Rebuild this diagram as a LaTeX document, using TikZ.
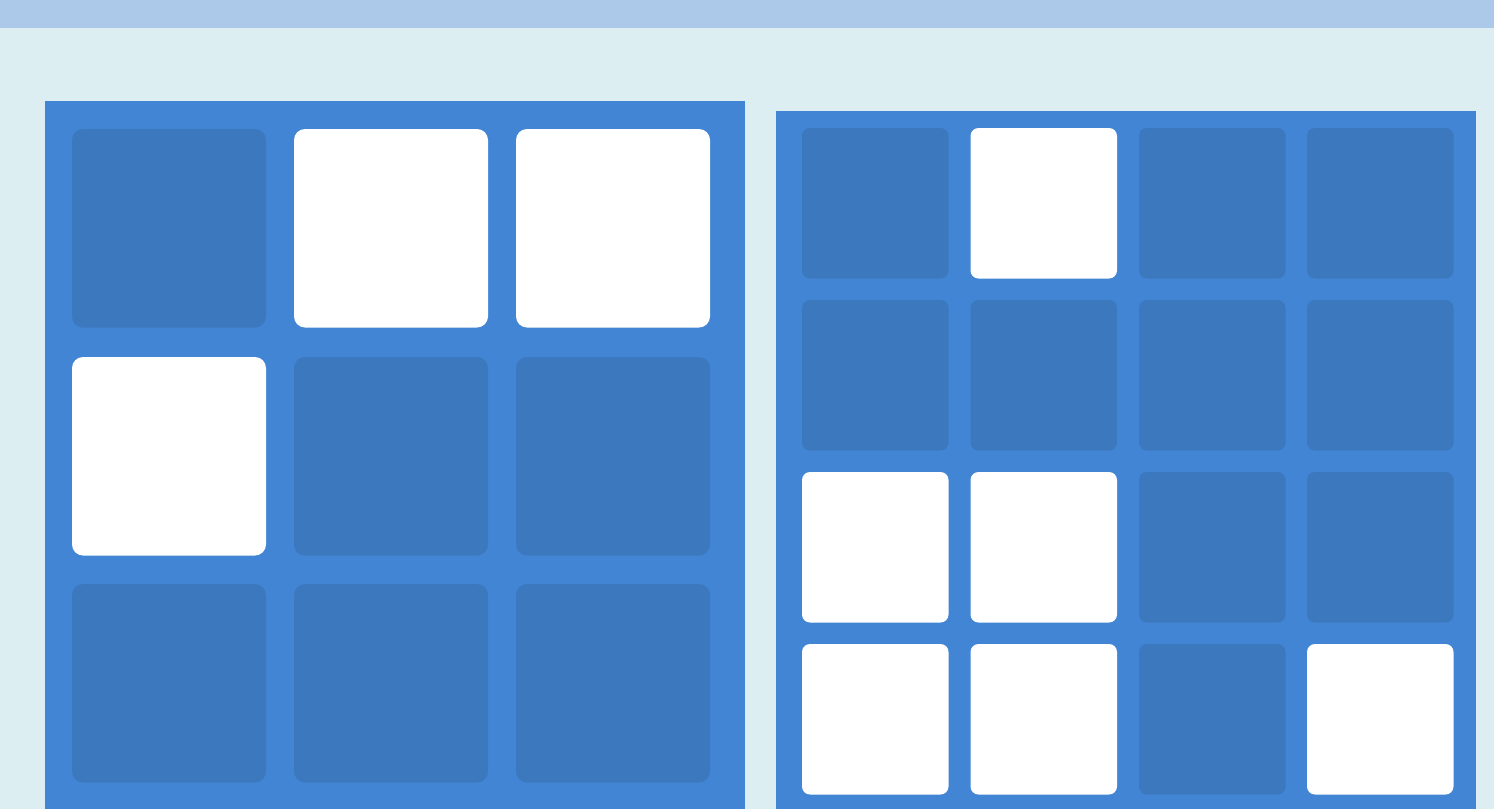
\documentclass[tikz,border=0pt]{standalone}
\definecolor{barcol}{HTML}{ADC9EA}
\definecolor{bgcol}{HTML}{DCEEF2}
\definecolor{panelcol}{HTML}{4285D4}
\definecolor{darkcol}{HTML}{3C78BE}
\begin{document}
\begin{tikzpicture}[x=1pt,y=-1pt,
  panel/.style={fill=panelcol},
  bigtile/.style={rounded corners=11pt},
  smalltile/.style={rounded corners=8pt},
  on/.style={fill=white},
  off/.style={fill=darkcol}]
\useasboundingbox (0,0) rectangle (1494,809);
\fill[bgcol] (0,0) rectangle (1494,809);
\fill[barcol] (0,0) rectangle (1494,28);
% left panel
\fill[panel] (45,101) rectangle (745,809);
\def\leftstates{{0,1,1},{1,0,0},{0,0,0}}
\foreach \r/\y in {0/129,1/357,2/584}{
  \foreach \c/\x in {0/72,1/294,2/516}{
    \pgfmathsetmacro{\s}{{{0,1,1},{1,0,0},{0,0,0}}[\r][\c]}
    \ifdim\s pt>0.5pt
      \fill[bigtile,on] (\x,\y) rectangle ++(194,198.5);
    \else
      \fill[bigtile,off] (\x,\y) rectangle ++(194,198.5);
    \fi
  }
}
% right panel
\fill[panel] (776,111) rectangle (1476,809);
\foreach \r/\y in {0/128,1/300,2/472,3/644}{
  \foreach \c/\x in {0/802,1/970.5,2/1139,3/1307}{
    \pgfmathsetmacro{\s}{{{0,1,0,0},{0,0,0,0},{1,1,0,0},{1,1,0,1}}[\r][\c]}
    \ifdim\s pt>0.5pt
      \fill[smalltile,on] (\x,\y) rectangle ++(146.5,150.5);
    \else
      \fill[smalltile,off] (\x,\y) rectangle ++(146.5,150.5);
    \fi
  }
}
\end{tikzpicture}
\end{document}
